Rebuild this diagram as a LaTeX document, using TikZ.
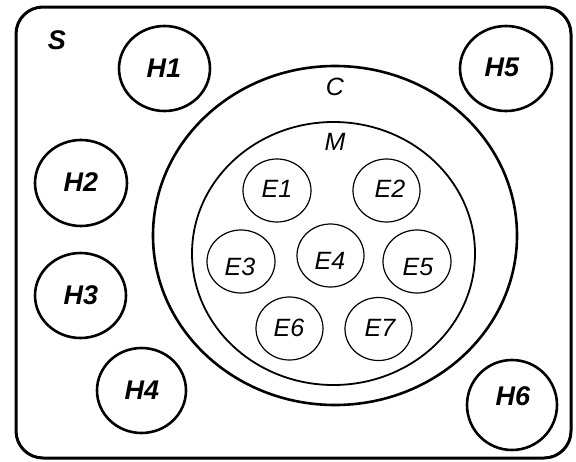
\documentclass[tikz,border=0pt]{standalone}
\usepackage{fontspec}
\setmainfont{Liberation Sans}
\usetikzlibrary{shapes.geometric}
\begin{document}
\begin{tikzpicture}[x=1pt,y=-1pt,
  hring/.style={draw, ellipse, line width=2.6pt, inner sep=0pt},
  ering/.style={draw, ellipse, line width=1.2pt, inner sep=0pt},
  hlab/.style={inner sep=0pt, font=\fontsize{27}{27}\selectfont\bfseries\itshape},
  elab/.style={inner sep=0pt, font=\fontsize{25}{25}\selectfont\itshape}]
\useasboundingbox (0,0) rectangle (576,461);
\node[draw, line width=3pt, rounded corners=27pt, minimum width=555pt, minimum height=451pt, inner sep=0pt] (S) at (293.5,232.5) {};
\node[hlab] (Slab) at (57,40) {S};
% C and M
\node[draw, ellipse, line width=2.6pt, minimum width=364pt, minimum height=339pt, inner sep=0pt] (C) at (335,235.5) {};
\node[elab] (Clab) at (335,87) {C};
\node[draw, ellipse, line width=1.8pt, minimum width=283pt, minimum height=263pt, inner sep=0pt] (M) at (333.5,253.5) {};
\node[elab] (Mlab) at (335,142) {M};
% H circles
\node[hring, minimum width=91pt, minimum height=85pt] (H1) at (164.5,68.5) {};
\node[hlab] at (164,68) {H1};
\node[hring, minimum width=92pt, minimum height=86pt] (H2) at (81,183) {};
\node[hlab] at (81,182) {H2};
\node[hring, minimum width=91pt, minimum height=85pt] (H3) at (80.5,295.5) {};
\node[hlab] at (81,295) {H3};
\node[hring, minimum width=89pt, minimum height=85pt] (H4) at (141.5,390.5) {};
\node[hlab] at (142,390) {H4};
\node[hring, minimum width=92pt, minimum height=85pt] (H5) at (506,68.5) {};
\node[hlab] at (502,67) {H5};
\node[hring, minimum width=90pt, minimum height=90pt] (H6) at (512,405) {};
\node[hlab] at (513,396) {H6};
% E circles
\node[ering, minimum width=68pt, minimum height=63pt] (E1) at (277,190.5) {};
\node[elab] at (277,189) {E1};
\node[ering, minimum width=67pt, minimum height=63pt] (E2) at (386.5,190.5) {};
\node[elab] at (390,189) {E2};
\node[ering, minimum width=68pt, minimum height=63pt] (E3) at (241,261.5) {};
\node[elab] at (240,267) {E3};
\node[ering, minimum width=67pt, minimum height=63pt] (E4) at (330.5,255.5) {};
\node[elab] at (330,261) {E4};
\node[ering, minimum width=68pt, minimum height=63pt] (E5) at (417,261.5) {};
\node[elab] at (418,267) {E5};
\node[ering, minimum width=67pt, minimum height=63pt] (E6) at (289.5,328.5) {};
\node[elab] at (289,328) {E6};
\node[ering, minimum width=67pt, minimum height=63pt] (E7) at (378.5,329) {};
\node[elab] at (380,328) {E7};
\end{tikzpicture}
\end{document}
